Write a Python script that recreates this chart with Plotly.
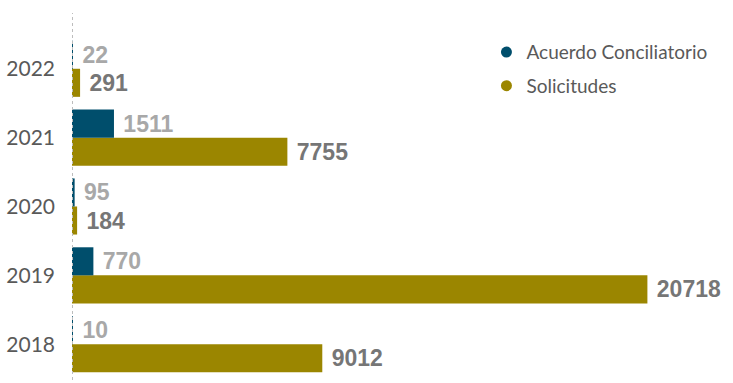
import plotly.graph_objects as go

# Yearly counts: conciliation agreements vs. requests
years = ["2018", "2019", "2020", "2021", "2022"]
acuerdos = [10, 770, 95, 1511, 22]
solicitudes = [9012, 20718, 184, 7755, 291]

TEAL = "#004e6c"
GOLD = "#9b8600"
TICK_FONT = "Lato, sans-serif"
VALUE_FONT = "Liberation Sans, Arial, sans-serif"

fig = go.Figure()

# Horizontal grouped bars: first trace sits at the bottom of each group
fig.add_trace(go.Bar(
    y=years, x=solicitudes, orientation="h", name="Solicitudes",
    marker=dict(color=GOLD, line=dict(width=0)),
    text=[str(v) for v in solicitudes], texttemplate="\u00a0%{text}",
    textposition="outside",
    textfont=dict(family=VALUE_FONT, size=23, color="#767676", weight="bold"),
    cliponaxis=False, showlegend=False,
))
fig.add_trace(go.Bar(
    y=years, x=acuerdos, orientation="h", name="Acuerdo Conciliatorio",
    marker=dict(color=TEAL, line=dict(width=0)),
    text=[str(v) for v in acuerdos], texttemplate="\u00a0%{text}",
    textposition="outside",
    textfont=dict(family=VALUE_FONT, size=23, color="#a8a8a8", weight="bold"),
    cliponaxis=False, showlegend=False,
))

# Legend entries drawn as round markers
for name, color, rank in [("Acuerdo Conciliatorio", TEAL, 1), ("Solicitudes", GOLD, 2)]:
    fig.add_trace(go.Scatter(
        x=[None], y=[None], mode="markers", name=name, legendrank=rank,
        legendgroup=name,
        marker=dict(symbol="circle", size=11, color=color),
    ))

# Dotted baseline on the value axis
fig.add_shape(type="line", xref="x", yref="paper", x0=0, x1=0, y0=0, y1=1,
              line=dict(color="#bdbdbd", width=2, dash="dot"))

fig.update_layout(
    width=733, height=383,
    margin=dict(l=72, r=0, t=13, b=3, autoexpand=False),
    paper_bgcolor="white", plot_bgcolor="white",
    barmode="group", bargap=0.185, bargroupgap=0,
    font=dict(family=TICK_FONT, color="#595959"),
    legend=dict(x=0.627, y=0.945, xanchor="left", yanchor="top",
                font=dict(family=TICK_FONT, size=19, color="#595959"),
                itemwidth=30, tracegroupgap=6, bgcolor="rgba(0,0,0,0)"),
    xaxis=dict(range=[0, 23800], visible=False, showgrid=False, zeroline=False),
    yaxis=dict(categoryorder="array", categoryarray=years, range=[-0.52, 4.81],
               showgrid=False, zeroline=False, showline=False, ticks="",
               ticklabelstandoff=16,
               tickfont=dict(family=TICK_FONT, size=21, color="#595959")),
)

fig.write_html("out.html")
